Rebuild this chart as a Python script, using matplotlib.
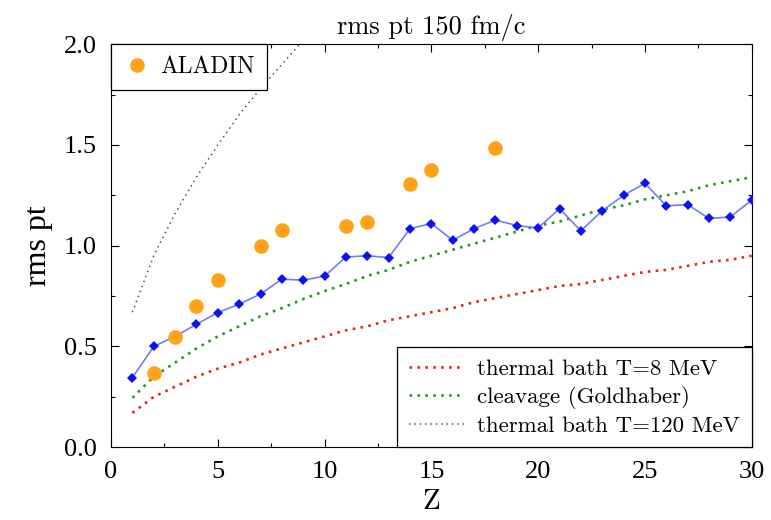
import matplotlib
matplotlib.use("Agg")
import matplotlib.pyplot as plt
from matplotlib.ticker import MultipleLocator

# simulation: rms pt per fragment charge
z_sim = list(range(1, 31))
pt_sim = [0.345, 0.50, 0.55, 0.61, 0.668, 0.71, 0.76, 0.834, 0.829, 0.849,
          0.944, 0.95, 0.941, 1.085, 1.11, 1.027, 1.085, 1.127, 1.10, 1.088,
          1.184, 1.074, 1.173, 1.25, 1.31, 1.198, 1.204, 1.135, 1.143, 1.226]

# ALADIN data
z_aladin = [2, 3, 4, 5, 7, 8, 11, 12, 14, 15, 18]
pt_aladin = [0.367, 0.546, 0.70, 0.829, 1.00, 1.08, 1.10, 1.117, 1.305, 1.375, 1.484]

# model curves read at integer Z
z_curve = list(range(1, 31))
pt_t8 = [0.17, 0.25, 0.30, 0.35, 0.39, 0.42, 0.46, 0.49, 0.52, 0.55,
         0.58, 0.60, 0.63, 0.65, 0.67, 0.69, 0.72, 0.74, 0.76, 0.78,
         0.80, 0.81, 0.83, 0.85, 0.87, 0.88, 0.90, 0.92, 0.93, 0.95]
pt_gold = [0.245, 0.35, 0.42, 0.49, 0.55, 0.60, 0.65, 0.69, 0.735, 0.775,
           0.81, 0.85, 0.88, 0.92, 0.95, 0.98, 1.01, 1.04, 1.07, 1.10,
           1.12, 1.15, 1.18, 1.20, 1.23, 1.25, 1.27, 1.30, 1.32, 1.34]
z_t120 = [1, 2, 3, 4, 5, 6, 7, 8, 9]
pt_t120 = [0.67, 0.95, 1.16, 1.34, 1.50, 1.65, 1.78, 1.90, 2.02]

tick_font = 'Liberation Serif'
cm_font = 'cmr10'

fig = plt.figure(figsize=(7.71, 5.2), dpi=100)
ax = fig.add_axes([0.144, 0.140, 0.831, 0.775])

l1, = ax.plot(z_curve, pt_t8, color='#ee2222', linestyle=(0, (1, 2.0)), lw=1.9,
              label='thermal bath T=8 MeV')
l2, = ax.plot(z_curve, pt_gold, color='#229922', linestyle=(0, (1, 2.0)), lw=1.9,
              label='cleavage (Goldhaber)')
l3, = ax.plot(z_t120, pt_t120, color='#555555', linestyle=(0, (1, 2.5)), lw=1.1,
              label='thermal bath T=120 MeV')

ax.plot(z_sim, pt_sim, color='#6f7ff0', lw=1.2, zorder=3)
ax.plot(z_sim, pt_sim, linestyle='none', marker='D', ms=5.5, color='#0a14f0',
        markeredgewidth=0, zorder=4)
dots, = ax.plot(z_aladin, pt_aladin, linestyle='none', marker='o', ms=10.5,
                color='#ffa21a', markeredgewidth=0, zorder=5, label='ALADIN')

ax.set_xlim(0, 30)
ax.set_ylim(0, 2.0)
ax.xaxis.set_major_locator(MultipleLocator(5))
ax.xaxis.set_minor_locator(MultipleLocator(2.5))
ax.yaxis.set_major_locator(MultipleLocator(0.5))
ax.yaxis.set_minor_locator(MultipleLocator(0.25))
ax.yaxis.set_major_formatter(matplotlib.ticker.FormatStrFormatter('%.1f'))
ax.tick_params(which='both', direction='in', top=True, right=True, width=0.8)
ax.tick_params(which='major', length=6, pad=10)
ax.tick_params(which='minor', length=3)
for lab in ax.get_xticklabels() + ax.get_yticklabels():
    lab.set_fontfamily(tick_font)
    lab.set_fontsize(19)

ax.set_title('rms pt 150 fm/c', fontfamily=cm_font, fontsize=19, pad=7)
ax.set_xlabel('Z', fontfamily=cm_font, fontsize=21, labelpad=4)
ax.set_ylabel('rms pt', fontfamily=tick_font, fontsize=23, labelpad=8)

leg1 = ax.legend(handles=[dots], loc='upper left', borderaxespad=0,
                 prop={'family': cm_font, 'size': 17}, fancybox=False,
                 edgecolor='black', framealpha=1, handletextpad=0.4,
                 handlelength=1.2, borderpad=0.5)
leg1.get_frame().set_linewidth(0.9)
ax.add_artist(leg1)

leg2 = ax.legend(handles=[l1, l2, l3], loc='lower right', borderaxespad=0,
                 prop={'family': cm_font, 'size': 16.5}, fancybox=False,
                 edgecolor='black', framealpha=1, handlelength=2.4,
                 labelspacing=0.3, borderpad=0.5, handletextpad=0.6)
leg2.get_frame().set_linewidth(0.9)

plt.savefig('out.png', dpi=100)
